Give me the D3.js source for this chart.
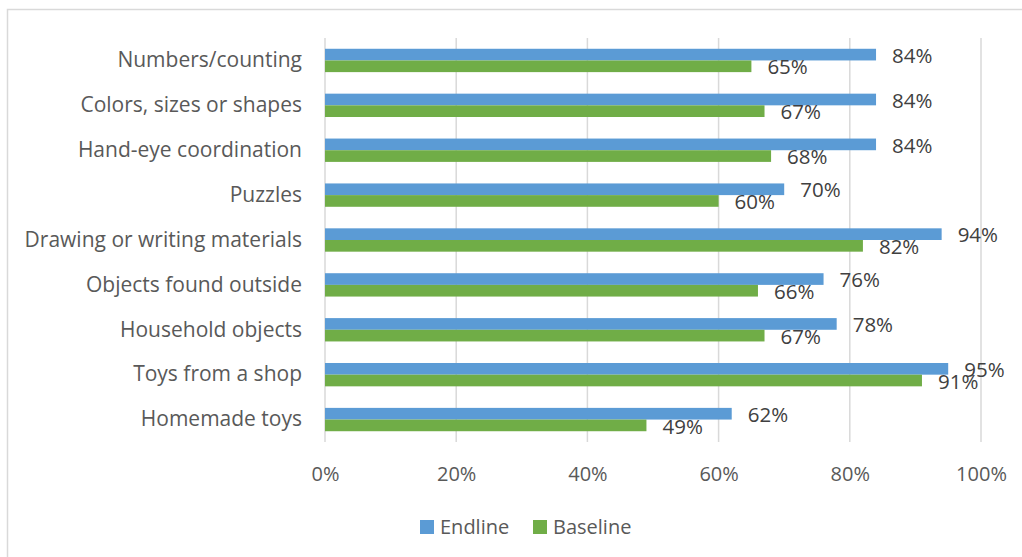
<!DOCTYPE html>
<html>
<head>
<meta charset="utf-8">
<script src="https://cdn.jsdelivr.net/npm/d3@7/dist/d3.min.js"></script>
<style>
  html, body { margin: 0; padding: 0; background: #fff; }
  svg { display: block; }
  text { font-family: "Open Sans", "Liberation Sans", sans-serif; }
</style>
</head>
<body>
<svg id="chart" width="1022" height="557"></svg>
<script>
// Activities, listed top to bottom
const categories = [
  "Numbers/counting",
  "Colors, sizes or shapes",
  "Hand-eye coordination",
  "Puzzles",
  "Drawing or writing materials",
  "Objects found outside",
  "Household objects",
  "Toys from a shop",
  "Homemade toys"
];
const endline  = [0.84, 0.84, 0.84, 0.70, 0.94, 0.76, 0.78, 0.95, 0.62];
const baseline = [0.65, 0.67, 0.68, 0.60, 0.82, 0.66, 0.67, 0.91, 0.49];
const seriesNames = ["Endline", "Baseline"];
const tickValues = [0, 0.2, 0.4, 0.6, 0.8, 1.0];

const colors = { Endline: "#5B9BD5", Baseline: "#70AD47" };
const seriesData = { Endline: endline, Baseline: baseline };

const svg = d3.select("#chart");

// outer chart frame
svg.append("rect")
  .attr("x", 7.5).attr("y", 9.5)
  .attr("width", 1040).attr("height", 600)
  .attr("fill", "none").attr("stroke", "#d9d9d9").attr("stroke-width", 1.5);

const plot = { left: 325, right: 981, top: 38, bottom: 442 };

const x = d3.scaleLinear().domain([0, 1]).range([plot.left, plot.right]);
const y = d3.scaleBand().domain(categories).range([plot.top, plot.bottom]).paddingInner(0).paddingOuter(0);
const inner = d3.scaleBand().domain(seriesNames).range([0, y.bandwidth() * 0.52])
  .paddingInner(0).paddingOuter(0);
const pairOffset = (y.bandwidth() - inner.range()[1]) / 2;

// vertical gridlines
svg.append("g")
  .selectAll("line")
  .data(tickValues)
  .join("line")
  .attr("x1", d => x(d)).attr("x2", d => x(d))
  .attr("y1", plot.top).attr("y2", plot.bottom)
  .attr("stroke", "#d9d9d9").attr("stroke-width", 1.5);

// x-axis labels
const xAxis = d3.axisBottom(x).tickValues(tickValues).tickFormat(d3.format(".0%")).tickSize(0).tickPadding(0);
const gx = svg.append("g").attr("transform", `translate(0,${plot.bottom})`).call(xAxis);
gx.select(".domain").remove();
gx.selectAll("text")
  .attr("y", 32).attr("dy", "0.35em")
  .attr("fill", "#595959")
  .style("font-size", "20px")
  .style("font-family", "\"Open Sans\", sans-serif");

// category labels
const yAxis = d3.axisLeft(y).tickSize(0).tickPadding(0);
const gy = svg.append("g").attr("transform", `translate(${plot.left - 23},0)`).call(yAxis);
gy.select(".domain").remove();
gy.selectAll("text")
  .attr("fill", "#595959")
  .style("font-size", "21px")
  .style("font-family", "\"Open Sans\", sans-serif");

// bars and value labels
seriesNames.forEach(name => {
  const vals = seriesData[name];
  const g = svg.append("g");
  g.selectAll("rect")
    .data(categories)
    .join("rect")
    .attr("x", x(0))
    .attr("y", (c) => y(c) + pairOffset + inner(name))
    .attr("width", (c, i) => x(vals[i]) - x(0))
    .attr("height", inner.bandwidth())
    .attr("fill", colors[name]);
  g.selectAll("text")
    .data(categories)
    .join("text")
    .attr("x", (c, i) => x(vals[i]) + 16)
    .attr("y", (c) => y(c) + pairOffset + inner(name) + inner.bandwidth() / 2 + 1)
    .attr("dy", "0.35em")
    .attr("fill", "#404040")
    .style("font-size", "20.5px")
    .text((c, i) => d3.format(".0%")(vals[i]));
});

// legend
const legend = svg.append("g");
const legendX = { Endline: 420, Baseline: 533 };
seriesNames.forEach(name => {
  legend.append("rect")
    .attr("x", legendX[name]).attr("y", 520)
    .attr("width", 14).attr("height", 14)
    .attr("fill", colors[name]);
  legend.append("text")
    .attr("x", legendX[name] + 20).attr("y", 527)
    .attr("dy", "0.35em")
    .attr("fill", "#595959")
    .style("font-size", "20px")
    .text(name);
});
</script>
</body>
</html>
